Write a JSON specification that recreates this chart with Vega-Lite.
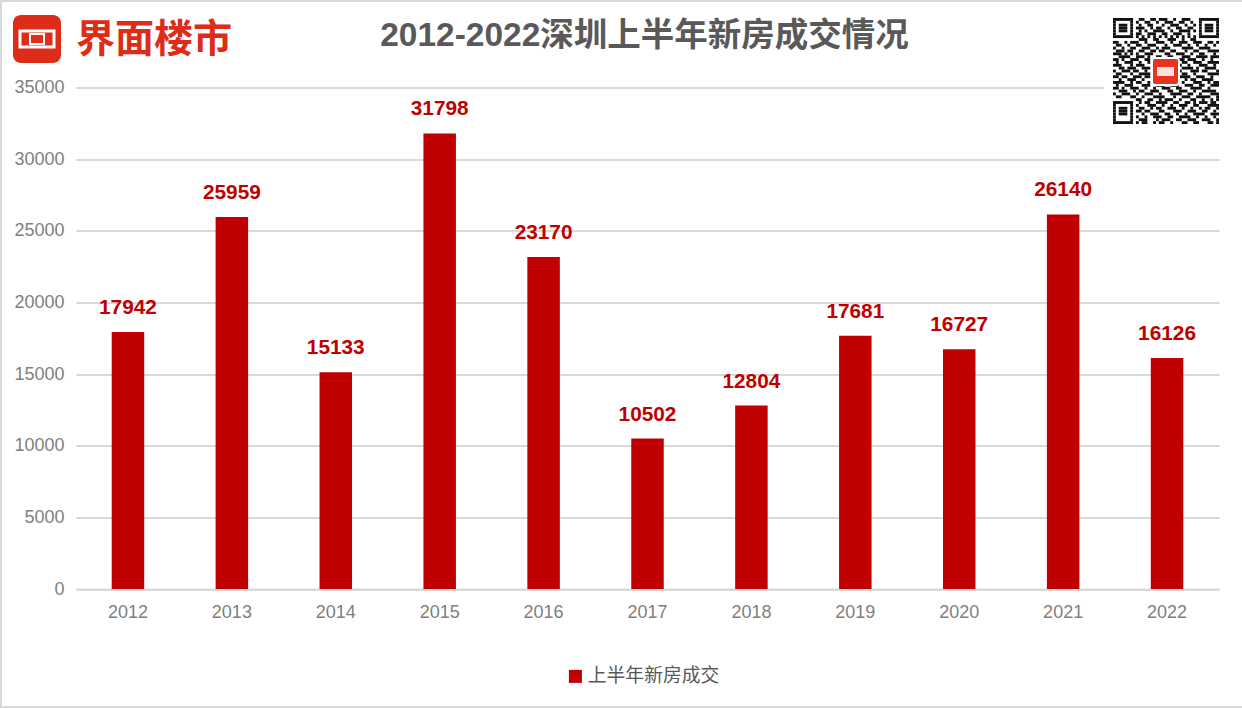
{"$schema":"https://vega.github.io/schema/vega-lite/v6.json","width":1143,"height":501.5,"autosize":"none","padding":{"left":76,"top":87.5,"right":23,"bottom":119},"background":"#ffffff","title":{"text":"2012-2022深圳上半年新房成交情况","anchor":"middle","frame":"group","dx":-3,"offset":-53,"fontSize":33.5,"font":"Liberation Sans, Noto Sans CJK SC","fontWeight":"bold","color":"#595959"},"config":{"view":{"stroke":null}},"datasets":{"sales":[{"year":"2012","sales":17942,"series":"上半年新房成交"},{"year":"2013","sales":25959,"series":"上半年新房成交"},{"year":"2014","sales":15133,"series":"上半年新房成交"},{"year":"2015","sales":31798,"series":"上半年新房成交"},{"year":"2016","sales":23170,"series":"上半年新房成交"},{"year":"2017","sales":10502,"series":"上半年新房成交"},{"year":"2018","sales":12804,"series":"上半年新房成交"},{"year":"2019","sales":17681,"series":"上半年新房成交"},{"year":"2020","sales":16727,"series":"上半年新房成交"},{"year":"2021","sales":26140,"series":"上半年新房成交"},{"year":"2022","sales":16126,"series":"上半年新房成交"}],"qr":[{"r":0,"a":0,"b":7},{"r":0,"a":9,"b":11},{"r":0,"a":13,"b":15},{"r":0,"a":16,"b":19},{"r":0,"a":21,"b":22},{"r":0,"a":24,"b":27},{"r":0,"a":30,"b":37},{"r":1,"a":0,"b":1},{"r":1,"a":6,"b":7},{"r":1,"a":8,"b":9},{"r":1,"a":11,"b":13},{"r":1,"a":15,"b":16},{"r":1,"a":18,"b":21},{"r":1,"a":23,"b":25},{"r":1,"a":27,"b":28},{"r":1,"a":30,"b":31},{"r":1,"a":36,"b":37},{"r":2,"a":0,"b":1},{"r":2,"a":2,"b":5},{"r":2,"a":6,"b":7},{"r":2,"a":9,"b":10},{"r":2,"a":12,"b":14},{"r":2,"a":17,"b":18},{"r":2,"a":20,"b":23},{"r":2,"a":25,"b":26},{"r":2,"a":28,"b":29},{"r":2,"a":30,"b":31},{"r":2,"a":32,"b":35},{"r":2,"a":36,"b":37},{"r":3,"a":0,"b":1},{"r":3,"a":2,"b":5},{"r":3,"a":6,"b":7},{"r":3,"a":8,"b":11},{"r":3,"a":13,"b":14},{"r":3,"a":15,"b":17},{"r":3,"a":19,"b":20},{"r":3,"a":22,"b":24},{"r":3,"a":26,"b":28},{"r":3,"a":30,"b":31},{"r":3,"a":32,"b":35},{"r":3,"a":36,"b":37},{"r":4,"a":0,"b":1},{"r":4,"a":2,"b":5},{"r":4,"a":6,"b":7},{"r":4,"a":9,"b":10},{"r":4,"a":11,"b":12},{"r":4,"a":14,"b":18},{"r":4,"a":20,"b":21},{"r":4,"a":23,"b":27},{"r":4,"a":28,"b":29},{"r":4,"a":30,"b":31},{"r":4,"a":32,"b":35},{"r":4,"a":36,"b":37},{"r":5,"a":0,"b":1},{"r":5,"a":6,"b":7},{"r":5,"a":8,"b":10},{"r":5,"a":12,"b":15},{"r":5,"a":17,"b":19},{"r":5,"a":21,"b":24},{"r":5,"a":26,"b":27},{"r":5,"a":30,"b":31},{"r":5,"a":36,"b":37},{"r":6,"a":0,"b":7},{"r":6,"a":8,"b":9},{"r":6,"a":10,"b":11},{"r":6,"a":12,"b":13},{"r":6,"a":14,"b":15},{"r":6,"a":16,"b":17},{"r":6,"a":18,"b":19},{"r":6,"a":20,"b":21},{"r":6,"a":22,"b":23},{"r":6,"a":24,"b":25},{"r":6,"a":26,"b":27},{"r":6,"a":28,"b":29},{"r":6,"a":30,"b":37},{"r":7,"a":9,"b":12},{"r":7,"a":14,"b":16},{"r":7,"a":19,"b":22},{"r":7,"a":24,"b":25},{"r":7,"a":27,"b":29},{"r":8,"a":0,"b":2},{"r":8,"a":4,"b":5},{"r":8,"a":6,"b":9},{"r":8,"a":11,"b":12},{"r":8,"a":15,"b":18},{"r":8,"a":20,"b":21},{"r":8,"a":23,"b":26},{"r":8,"a":28,"b":31},{"r":8,"a":33,"b":35},{"r":8,"a":36,"b":37},{"r":9,"a":1,"b":3},{"r":9,"a":5,"b":6},{"r":9,"a":8,"b":10},{"r":9,"a":12,"b":15},{"r":9,"a":18,"b":19},{"r":9,"a":21,"b":24},{"r":9,"a":26,"b":27},{"r":9,"a":29,"b":30},{"r":9,"a":32,"b":33},{"r":9,"a":35,"b":36},{"r":10,"a":0,"b":1},{"r":10,"a":3,"b":4},{"r":10,"a":6,"b":8},{"r":10,"a":10,"b":13},{"r":10,"a":15,"b":16},{"r":10,"a":17,"b":20},{"r":10,"a":24,"b":28},{"r":10,"a":30,"b":34},{"r":11,"a":1,"b":4},{"r":11,"a":5,"b":7},{"r":11,"a":9,"b":11},{"r":11,"a":13,"b":15},{"r":11,"a":16,"b":18},{"r":11,"a":20,"b":22},{"r":11,"a":25,"b":26},{"r":11,"a":28,"b":30},{"r":11,"a":33,"b":37},{"r":12,"a":0,"b":3},{"r":12,"a":4,"b":5},{"r":12,"a":6,"b":7},{"r":12,"a":8,"b":9},{"r":12,"a":11,"b":14},{"r":12,"a":18,"b":20},{"r":12,"a":22,"b":25},{"r":12,"a":27,"b":28},{"r":12,"a":30,"b":32},{"r":12,"a":35,"b":36},{"r":13,"a":2,"b":6},{"r":13,"a":8,"b":11},{"r":13,"a":12,"b":13},{"r":13,"a":15,"b":17},{"r":13,"a":19,"b":21},{"r":13,"a":24,"b":27},{"r":13,"a":29,"b":33},{"r":13,"a":34,"b":37},{"r":14,"a":0,"b":2},{"r":14,"a":3,"b":4},{"r":14,"a":6,"b":9},{"r":14,"a":11,"b":13},{"r":14,"a":23,"b":25},{"r":14,"a":26,"b":29},{"r":14,"a":31,"b":32},{"r":14,"a":34,"b":35},{"r":15,"a":1,"b":2},{"r":15,"a":4,"b":7},{"r":15,"a":9,"b":10},{"r":15,"a":12,"b":13},{"r":15,"a":24,"b":26},{"r":15,"a":28,"b":31},{"r":15,"a":33,"b":37},{"r":16,"a":0,"b":3},{"r":16,"a":6,"b":7},{"r":16,"a":8,"b":11},{"r":16,"a":23,"b":24},{"r":16,"a":26,"b":27},{"r":16,"a":30,"b":33},{"r":16,"a":35,"b":36},{"r":17,"a":2,"b":4},{"r":17,"a":5,"b":8},{"r":17,"a":10,"b":13},{"r":17,"a":24,"b":28},{"r":17,"a":29,"b":30},{"r":17,"a":32,"b":36},{"r":18,"a":0,"b":1},{"r":18,"a":3,"b":6},{"r":18,"a":7,"b":9},{"r":18,"a":11,"b":12},{"r":18,"a":23,"b":24},{"r":18,"a":27,"b":30},{"r":18,"a":31,"b":33},{"r":18,"a":36,"b":37},{"r":19,"a":1,"b":3},{"r":19,"a":6,"b":7},{"r":19,"a":9,"b":13},{"r":19,"a":24,"b":26},{"r":19,"a":28,"b":29},{"r":19,"a":33,"b":37},{"r":20,"a":0,"b":2},{"r":20,"a":3,"b":5},{"r":20,"a":7,"b":10},{"r":20,"a":11,"b":13},{"r":20,"a":23,"b":27},{"r":20,"a":29,"b":32},{"r":20,"a":34,"b":35},{"r":21,"a":2,"b":3},{"r":21,"a":5,"b":8},{"r":21,"a":10,"b":11},{"r":21,"a":25,"b":26},{"r":21,"a":27,"b":29},{"r":21,"a":31,"b":35},{"r":22,"a":0,"b":4},{"r":22,"a":6,"b":7},{"r":22,"a":8,"b":10},{"r":22,"a":12,"b":13},{"r":22,"a":24,"b":25},{"r":22,"a":28,"b":31},{"r":22,"a":33,"b":34},{"r":22,"a":35,"b":37},{"r":23,"a":1,"b":2},{"r":23,"a":4,"b":7},{"r":23,"a":10,"b":13},{"r":23,"a":15,"b":18},{"r":23,"a":20,"b":23},{"r":23,"a":25,"b":28},{"r":23,"a":30,"b":32},{"r":23,"a":34,"b":37},{"r":24,"a":0,"b":2},{"r":24,"a":3,"b":4},{"r":24,"a":6,"b":9},{"r":24,"a":11,"b":12},{"r":24,"a":14,"b":15},{"r":24,"a":17,"b":20},{"r":24,"a":22,"b":24},{"r":24,"a":27,"b":31},{"r":24,"a":33,"b":34},{"r":25,"a":2,"b":5},{"r":25,"a":7,"b":8},{"r":25,"a":9,"b":11},{"r":25,"a":13,"b":16},{"r":25,"a":19,"b":21},{"r":25,"a":23,"b":26},{"r":25,"a":28,"b":29},{"r":25,"a":31,"b":36},{"r":26,"a":0,"b":1},{"r":26,"a":3,"b":6},{"r":26,"a":8,"b":9},{"r":26,"a":11,"b":14},{"r":26,"a":16,"b":17},{"r":26,"a":20,"b":24},{"r":26,"a":26,"b":28},{"r":26,"a":30,"b":31},{"r":26,"a":34,"b":37},{"r":27,"a":1,"b":3},{"r":27,"a":6,"b":8},{"r":27,"a":10,"b":11},{"r":27,"a":14,"b":18},{"r":27,"a":21,"b":22},{"r":27,"a":24,"b":27},{"r":27,"a":29,"b":34},{"r":27,"a":36,"b":37},{"r":28,"a":8,"b":10},{"r":28,"a":12,"b":14},{"r":28,"a":16,"b":17},{"r":28,"a":18,"b":21},{"r":28,"a":23,"b":24},{"r":28,"a":27,"b":29},{"r":28,"a":31,"b":32},{"r":28,"a":34,"b":35},{"r":28,"a":36,"b":37},{"r":29,"a":0,"b":7},{"r":29,"a":9,"b":10},{"r":29,"a":11,"b":13},{"r":29,"a":15,"b":19},{"r":29,"a":21,"b":23},{"r":29,"a":25,"b":27},{"r":29,"a":28,"b":29},{"r":29,"a":30,"b":33},{"r":29,"a":34,"b":36},{"r":30,"a":0,"b":1},{"r":30,"a":6,"b":7},{"r":30,"a":8,"b":9},{"r":30,"a":12,"b":15},{"r":30,"a":17,"b":18},{"r":30,"a":20,"b":21},{"r":30,"a":23,"b":26},{"r":30,"a":28,"b":30},{"r":30,"a":33,"b":37},{"r":31,"a":0,"b":1},{"r":31,"a":2,"b":5},{"r":31,"a":6,"b":7},{"r":31,"a":9,"b":11},{"r":31,"a":13,"b":14},{"r":31,"a":15,"b":17},{"r":31,"a":19,"b":22},{"r":31,"a":24,"b":25},{"r":31,"a":27,"b":28},{"r":31,"a":30,"b":31},{"r":31,"a":32,"b":34},{"r":31,"a":36,"b":37},{"r":32,"a":0,"b":1},{"r":32,"a":2,"b":5},{"r":32,"a":6,"b":7},{"r":32,"a":8,"b":10},{"r":32,"a":11,"b":13},{"r":32,"a":16,"b":18},{"r":32,"a":21,"b":24},{"r":32,"a":26,"b":29},{"r":32,"a":31,"b":33},{"r":32,"a":35,"b":36},{"r":33,"a":0,"b":1},{"r":33,"a":2,"b":5},{"r":33,"a":6,"b":7},{"r":33,"a":10,"b":11},{"r":33,"a":13,"b":16},{"r":33,"a":18,"b":20},{"r":33,"a":22,"b":23},{"r":33,"a":25,"b":26},{"r":33,"a":28,"b":32},{"r":33,"a":34,"b":37},{"r":34,"a":0,"b":1},{"r":34,"a":6,"b":7},{"r":34,"a":8,"b":9},{"r":34,"a":11,"b":12},{"r":34,"a":14,"b":17},{"r":34,"a":19,"b":21},{"r":34,"a":23,"b":27},{"r":34,"a":29,"b":30},{"r":34,"a":32,"b":33},{"r":34,"a":35,"b":36},{"r":35,"a":0,"b":1},{"r":35,"a":6,"b":7},{"r":35,"a":9,"b":12},{"r":35,"a":15,"b":16},{"r":35,"a":17,"b":20},{"r":35,"a":22,"b":24},{"r":35,"a":26,"b":29},{"r":35,"a":31,"b":34},{"r":35,"a":36,"b":37},{"r":36,"a":0,"b":7},{"r":36,"a":8,"b":9},{"r":36,"a":10,"b":12},{"r":36,"a":14,"b":15},{"r":36,"a":16,"b":18},{"r":36,"a":20,"b":21},{"r":36,"a":24,"b":26},{"r":36,"a":28,"b":30},{"r":36,"a":33,"b":35},{"r":36,"a":36,"b":37}]},"resolve":{"scale":{"x":"independent","y":"independent","color":"independent"}},"layer":[{"data":{"name":"sales"},"encoding":{"x":{"field":"year","type":"nominal","scale":{"paddingInner":0,"paddingOuter":0},"axis":{"title":null,"labelAngle":0,"labelFont":"Liberation Sans","labelFontSize":18,"labelColor":"#7f7f7f","labelPadding":14,"ticks":false,"domainColor":"#d9d9d9","domainWidth":2,"grid":false}},"y":{"field":"sales","type":"quantitative","scale":{"domain":[0,35000],"nice":false},"axis":{"title":null,"values":[0,5000,10000,15000,20000,25000,30000,35000],"format":"d","labelFont":"Liberation Sans","labelFontSize":18,"labelColor":"#7f7f7f","labelPadding":12,"ticks":false,"domain":false,"gridColor":"#d9d9d9","gridWidth":2}}},"layer":[{"mark":{"type":"bar","width":32.5},"encoding":{"color":{"field":"series","type":"nominal","scale":{"range":["#c00000"]},"legend":{"title":null,"orient":"none","legendX":490,"legendY":579.5,"symbolType":"square","symbolSize":169,"symbolStrokeWidth":0,"labelFont":"Noto Sans CJK SC","labelFontSize":18.8,"labelColor":"#595959","labelOffset":3}}}},{"mark":{"type":"text","font":"Liberation Sans","fontSize":20.8,"fontWeight":"bold","color":"#c00000","baseline":"middle","dy":-24},"encoding":{"text":{"field":"sales","type":"quantitative","format":"d"}}}]},{"data":{"values":[{}]},"encoding":{"x":{"datum":0,"type":"quantitative","scale":{"domain":[0,1242],"range":[-76,1166],"nice":false,"zero":false},"axis":null},"y":{"datum":0,"type":"quantitative","scale":{"domain":[0,708],"range":[-87.5,620.5],"nice":false,"zero":false},"axis":null}},"layer":[{"mark":{"type":"rect","fill":null,"stroke":"#d9d9d9","strokeWidth":2},"encoding":{"x":{"datum":1},"x2":{"datum":1245},"y":{"datum":1},"y2":{"datum":707}}},{"mark":{"type":"rect","fill":"#ffffff"},"encoding":{"x":{"datum":1104},"x2":{"datum":1230},"y":{"datum":8},"y2":{"datum":130}}},{"mark":{"type":"rect","fill":"#dd2c17","cornerRadius":8},"encoding":{"x":{"datum":13},"x2":{"datum":61},"y":{"datum":15},"y2":{"datum":63}}},{"mark":{"type":"rect","fill":null,"stroke":"#ffffff","strokeWidth":3},"encoding":{"x":{"datum":20},"x2":{"datum":54},"y":{"datum":31},"y2":{"datum":47}}},{"mark":{"type":"rect","fill":null,"stroke":"#ffffff","strokeWidth":2},"encoding":{"x":{"datum":30},"x2":{"datum":44},"y":{"datum":34},"y2":{"datum":44}}},{"mark":{"type":"text","text":"界面楼市","font":"Noto Sans CJK SC","fontSize":39,"fontWeight":"bold","color":"#dd2c17","align":"center","baseline":"middle"},"encoding":{"x":{"datum":154},"y":{"datum":40}}}]},{"data":{"name":"qr"},"mark":{"type":"rect","fill":"#111111"},"encoding":{"x":{"field":"a","type":"quantitative","scale":{"domain":[0,37],"range":[1037,1143],"nice":false,"zero":false},"axis":null},"x2":{"field":"b"},"y":{"field":"r","type":"ordinal","scale":{"range":[-69.5,36.5],"paddingInner":0,"paddingOuter":0},"axis":null}}},{"data":{"values":[{}]},"encoding":{"x":{"datum":0,"type":"quantitative","scale":{"domain":[0,1242],"range":[-76,1166],"nice":false,"zero":false},"axis":null},"y":{"datum":0,"type":"quantitative","scale":{"domain":[0,708],"range":[-87.5,620.5],"nice":false,"zero":false},"axis":null}},"layer":[{"mark":{"type":"rect","fill":"#e8341c","stroke":"#ffffff","strokeWidth":2,"cornerRadius":3},"encoding":{"x":{"datum":1152},"x2":{"datum":1179},"y":{"datum":58},"y2":{"datum":85}}},{"mark":{"type":"rect","fill":"#ffffff","opacity":0.85},"encoding":{"x":{"datum":1157},"x2":{"datum":1174},"y":{"datum":67},"y2":{"datum":76}}}]}]}
